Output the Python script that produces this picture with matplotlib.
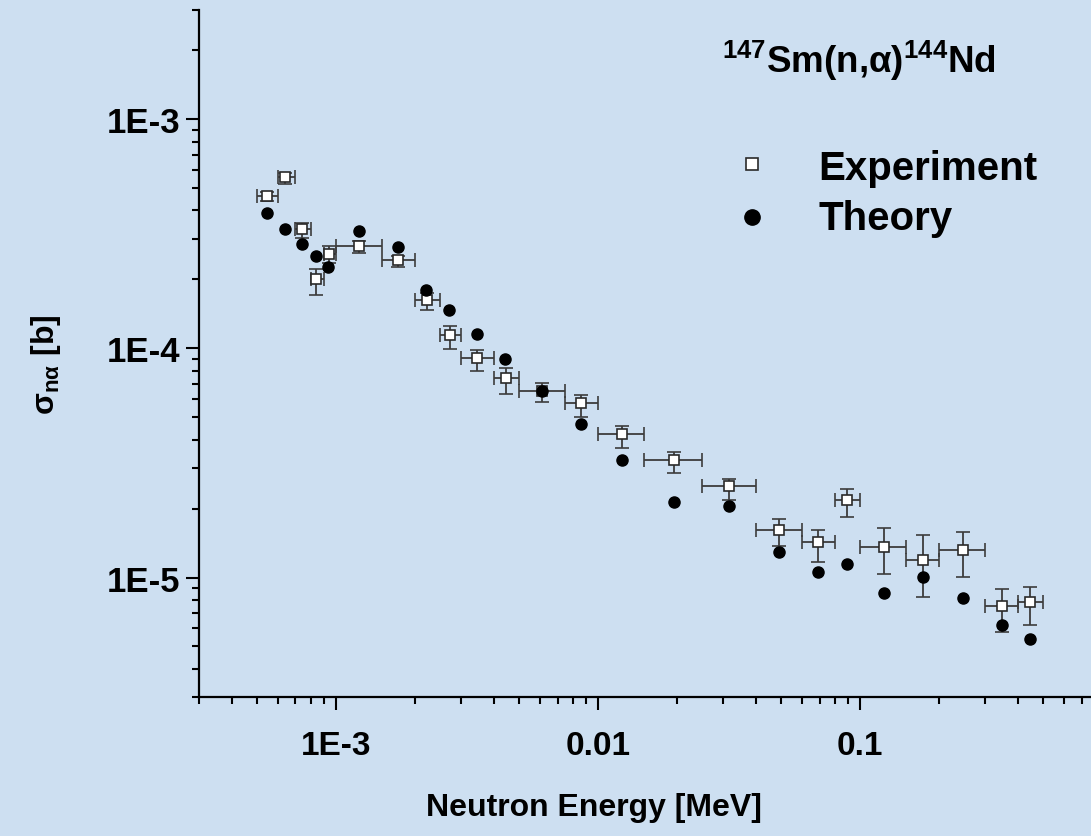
import numpy as np
import matplotlib
matplotlib.use('Agg')
import matplotlib.pyplot as plt
from matplotlib.ticker import FixedLocator, FixedFormatter, LogLocator, NullFormatter

plt.rcParams['font.family'] = ['Liberation Sans', 'DejaVu Sans']
plt.rcParams['font.weight'] = 'bold'
plt.rcParams['mathtext.fontset'] = 'custom'
plt.rcParams['mathtext.rm'] = 'Liberation Sans:bold'
plt.rcParams['mathtext.it'] = 'Liberation Sans:bold'
plt.rcParams['mathtext.bf'] = 'Liberation Sans:bold'
plt.rcParams['mathtext.default'] = 'rm'

# Experimental cross sections with energy bins [MeV] and sigma limits [b]
energy = [5.45e-4, 6.4e-4, 7.4e-4, 8.4e-4, 9.4e-4, 1.225e-3, 1.73e-3, 2.22e-3,
          2.72e-3, 3.45e-3, 4.45e-3, 6.1e-3, 8.6e-3, 1.23e-2, 1.95e-2, 3.15e-2,
          4.9e-2, 6.9e-2, 8.9e-2, 0.123, 0.173, 0.246, 0.346, 0.446]
e_low = [5.0e-4, 6.0e-4, 7.0e-4, 8.0e-4, 9.0e-4, 1.0e-3, 1.5e-3, 2.0e-3,
         2.5e-3, 3.0e-3, 4.0e-3, 5.0e-3, 7.5e-3, 1.0e-2, 1.5e-2, 2.5e-2,
         4.0e-2, 6.0e-2, 8.0e-2, 0.10, 0.15, 0.20, 0.30, 0.40]
e_high = [6.0e-4, 7.0e-4, 8.0e-4, 9.0e-4, 1.0e-3, 1.5e-3, 2.0e-3, 2.5e-3,
          3.0e-3, 4.0e-3, 5.0e-3, 7.5e-3, 1.0e-2, 1.5e-2, 2.5e-2, 4.0e-2,
          6.0e-2, 8.0e-2, 0.10, 0.15, 0.20, 0.30, 0.40, 0.50]
sigma_exp = [4.62e-4, 5.62e-4, 3.31e-4, 2.01e-4, 2.59e-4, 2.81e-4, 2.44e-4, 1.634e-4,
             1.143e-4, 9.05e-5, 7.40e-5, 6.49e-5, 5.75e-5, 4.24e-5, 3.26e-5, 2.50e-5,
             1.62e-5, 1.426e-5, 2.18e-5, 1.365e-5, 1.197e-5, 1.32e-5, 7.51e-6, 7.80e-6]
sigma_hi = [4.84e-4, 5.81e-4, 3.51e-4, 2.23e-4, 2.79e-4, 2.95e-4, 2.54e-4, 1.748e-4,
            1.258e-4, 9.81e-5, 8.18e-5, 7.07e-5, 6.28e-5, 4.60e-5, 3.53e-5, 2.70e-5,
            1.80e-5, 1.62e-5, 2.43e-5, 1.64e-5, 1.535e-5, 1.582e-5, 8.92e-6, 9.12e-6]
sigma_lo = [4.38e-4, 5.21e-4, 3.02e-4, 1.718e-4, 2.37e-4, 2.62e-4, 2.27e-4, 1.467e-4,
            9.95e-5, 7.97e-5, 6.32e-5, 5.84e-5, 5.0e-5, 3.68e-5, 2.87e-5, 2.19e-5,
            1.378e-5, 1.17e-5, 1.84e-5, 1.035e-5, 8.2e-6, 1.009e-5, 5.78e-6, 6.19e-6]

# Calculated cross sections
energy_th = [5.45e-4, 6.4e-4, 7.4e-4, 8.4e-4, 9.3e-4, 1.225e-3, 1.72e-3, 2.21e-3,
             2.70e-3, 3.44e-3, 4.42e-3, 6.1e-3, 8.6e-3, 1.23e-2, 1.95e-2, 3.15e-2,
             4.9e-2, 6.9e-2, 8.9e-2, 0.123, 0.173, 0.246, 0.346, 0.446]
sigma_th = [3.91e-4, 3.31e-4, 2.85e-4, 2.53e-4, 2.26e-4, 3.24e-4, 2.76e-4, 1.80e-4,
            1.478e-4, 1.161e-4, 9.02e-5, 6.49e-5, 4.66e-5, 3.26e-5, 2.14e-5, 2.06e-5,
            1.294e-5, 1.058e-5, 1.143e-5, 8.54e-6, 1.003e-5, 8.14e-6, 6.19e-6, 5.37e-6]

xtick_vals = [1e-3, 1e-2, 1e-1]
xtick_labels = ['1E-3', '0.01', '0.1']
ytick_vals = [1e-5, 1e-4, 1e-3]
ytick_labels = ['1E-5', '1E-4', '1E-3']

bg = '#cddff1'
W, H = 1091, 837
fig = plt.figure(figsize=(W / 100, H / 100), dpi=100)
fig.patch.set_facecolor(bg)
ax = fig.add_axes([199 / W, (H - 698.3) / H, 1 - 199 / W, (698.3 - 11) / H])
ax.set_facecolor('none')

ax.set_xscale('log')
ax.set_yscale('log')
ax.set_xlim(3e-4, 0.759)
ax.set_ylim(3e-6, 3e-3)

e = np.array(energy)
s = np.array(sigma_exp)
xerr = [e - np.array(e_low), np.array(e_high) - e]
yerr = [s - np.array(sigma_lo), np.array(sigma_hi) - s]
ax.errorbar(e, s, xerr=xerr, yerr=yerr, fmt='s', ms=6.5, mfc='white', mec='#2a2a2a',
            mew=1.2, ecolor='#3c3c3c', elinewidth=1.3, capsize=4.7, capthick=1.3,
            zorder=3)
ax.plot(energy_th, sigma_th, 'o', color='black', ms=8, zorder=4)

for side in ['top', 'right']:
    ax.spines[side].set_visible(False)
for side in ['left', 'bottom']:
    ax.spines[side].set_linewidth(1.6)
    ax.spines[side].set_color('black')

ax.xaxis.set_major_locator(FixedLocator(xtick_vals))
ax.xaxis.set_major_formatter(FixedFormatter(xtick_labels))
ax.yaxis.set_major_locator(FixedLocator(ytick_vals))
ax.yaxis.set_major_formatter(FixedFormatter(ytick_labels))
for axis in (ax.xaxis, ax.yaxis):
    axis.set_minor_locator(LogLocator(base=10, subs=np.arange(2, 10)))
    axis.set_minor_formatter(NullFormatter())
ax.tick_params(which='major', direction='out', length=9.5, width=1.5, pad=4)
ax.tick_params(which='minor', direction='out', length=5, width=1.5)
ax.tick_params(axis='x', which='major', pad=14)
for lab in ax.get_yticklabels():
    lab.set_fontweight('bold')
    lab.set_fontsize(25)
for lab in ax.get_xticklabels():
    lab.set_fontweight('bold')
    lab.set_fontsize(24)

fig.text(594 / W, 1 - 808 / H, 'Neutron Energy [MeV]', fontsize=23,
         fontweight='bold', ha='center', va='center')
fig.text(46 / W, 1 - 365 / H, 'σ$_{nα}$ [b]', rotation=90, fontsize=23,
         fontweight='bold', ha='center', va='center')

# reaction label
fig.text(722 / W, 1 - 72.7 / H, '$^{147}$Sm(n,α)$^{144}$Nd', fontsize=26.5,
         fontweight='bold', ha='left', va='baseline')

# legend entries
ax.plot([0.62], [0.776], 's', ms=9, mfc='white', mec='#2a2a2a', mew=1.2,
        transform=ax.transAxes, clip_on=False)
ax.plot([0.62], [0.699], 'o', ms=11, color='black', transform=ax.transAxes, clip_on=False)
ax.text(0.694, 0.754, 'Experiment', transform=ax.transAxes, fontsize=29,
        fontweight='bold', va='baseline', ha='left')
ax.text(0.694, 0.681, 'Theory', transform=ax.transAxes, fontsize=29,
        fontweight='bold', va='baseline', ha='left')

fig.savefig('out.png', dpi=100, facecolor=bg)
